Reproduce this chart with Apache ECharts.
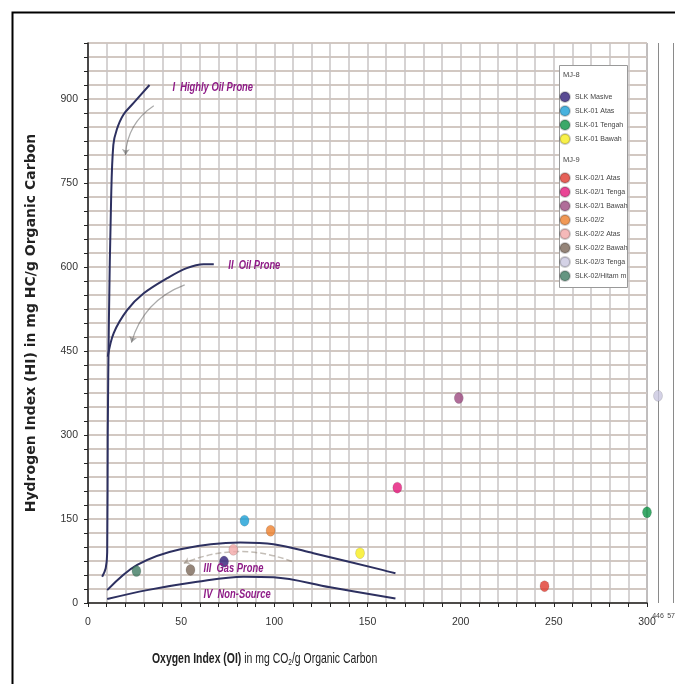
<!DOCTYPE html>
<html>
<head>
<meta charset="utf-8">
<script src="https://cdn.jsdelivr.net/npm/echarts@6/dist/echarts.min.js"></script>
<style>
html, body { margin: 0; padding: 0; background: #fff; }
#chart { width: 675px; height: 684px; }
</style>
</head>
<body>
<div id="chart"></div>
<script>
// samples (OI, HI)
var groupMJ8 = ['SLK Masive', 'SLK-01 Atas', 'SLK-01 Tengah', 'SLK-01 Bawah'];
var groupMJ9 = ['SLK-02/1 Atas', 'SLK-02/1 Tengah', 'SLK-02/1 Bawah', 'SLK-02/2', 'SLK-02/2 Atas', 'SLK-02/2 Bawah', 'SLK-02/3 Tengah', 'SLK-02/Hitam msv'];
var sampleNames = groupMJ8.concat(groupMJ9);
var sampleOI = [73, 84, 300, 146, 245, 166, 199, 98, 78, 55, 446, 26];
var sampleHI = [74, 147, 162, 89, 30, 206, 366, 129, 95, 59, 370, 57];
var sampleColors = ['#2f1e78', '#1a9fd6', '#0b9444', '#f7ee1c', '#e03a2e', '#e5177b', '#9c4880', '#ed7f2c', '#f2a8a8', '#7b6658', '#c9c7e0', '#3e7b62'];

// kerogen type boundary curves
var typeI = [[7.6, 47], [9.5, 62], [10.3, 90], [10.6, 300], [11.2, 500], [12.4, 720], [13.6, 818], [15.5, 846], [19, 872], [24.5, 893], [33, 925]];
var typeII = [[10.6, 440], [13.8, 482], [21, 523], [29.9, 553], [42.5, 580], [53, 598], [62, 605], [67.5, 605]];
var typeIII = [[10.3, 23], [26.4, 68], [49.6, 96], [81.8, 108], [99.6, 105], [121, 89], [156.8, 60], [165, 53]];
var typeIV = [[10.3, 7], [31.7, 23], [58.6, 38], [83.5, 47], [99.6, 46], [130, 28], [165, 8]];

// maturation arrows
var arrowI = [[35.3, 888], [20.1, 800]];
var arrowII = [[51.9, 568], [23.3, 465]];
var arrowIII = [[109.5, 74], [51.4, 71]];

var zoneLabels = [
    [45.3, 921, 'I  Highly Oil Prone'],
    [75.3, 603, 'II  Oil Prone'],
    [62, 62, 'III  Gas Prone'],
    [62, 14, 'IV  Non-Source']
];
var brokenTicks = [446, 576];

var font = 'Liberation Sans, Arial, sans-serif';
var curveColor = '#2d3060';

var dom = document.getElementById('chart');
var myChart = echarts.init(dom, null, { renderer: 'canvas' });

function curve(points) {
    return {
        type: 'line',
        xAxisIndex: 0,
        yAxisIndex: 0,
        data: points,
        smooth: 0.35,
        showSymbol: false,
        silent: true,
        lineStyle: { color: curveColor, width: 2 },
        z: 3
    };
}

var series = [curve(typeI), curve(typeII), curve(typeIII), curve(typeIV)];

series.push({
    type: 'lines',
    coordinateSystem: 'cartesian2d',
    xAxisIndex: 0,
    yAxisIndex: 0,
    symbol: ['none', 'arrow'],
    symbolSize: 6,
    silent: true,
    z: 3,
    lineStyle: { color: '#555', width: 1.2, curveness: -0.25 },
    data: [
        { coords: arrowI },
        { coords: arrowII },
        { coords: arrowIII, lineStyle: { color: '#8a7d70', type: 'dashed', width: 1.5, curveness: -0.2 } }
    ]
});

sampleNames.forEach(function (name, i) {
    var broken = sampleOI[i] > 300;
    series.push({
        name: name,
        type: 'scatter',
        xAxisIndex: broken ? 1 : 0,
        yAxisIndex: broken ? 1 : 0,
        symbol: 'circle',
        symbolSize: [9, 11],
        itemStyle: {
            color: sampleColors[i],
            borderColor: 'rgba(0,0,0,0.25)',
            borderWidth: 0.6
        },
        data: [[sampleOI[i], sampleHI[i]]],
        z: 5
    });
});

// vertical markers on the broken part of the axis
series.push({
    type: 'line',
    xAxisIndex: 1,
    yAxisIndex: 1,
    data: [],
    silent: true,
    markLine: {
        silent: true,
        symbol: 'none',
        label: { show: false },
        lineStyle: { color: '#8a8a8a', type: 'solid', width: 1 },
        data: brokenTicks.map(function (v) { return { xAxis: v }; })
    }
});

var legendCommon = {
    orient: 'vertical',
    left: 559,
    icon: 'circle',
    itemWidth: 10,
    itemHeight: 10,
    itemGap: 2,
    padding: 0,
    selectedMode: false,
    textStyle: {
        fontFamily: font,
        fontSize: 7,
        color: '#444',
        width: 54,
        overflow: 'truncate',
        ellipsis: '\u200b'
    }
};

var option = {
    backgroundColor: '#fff',
    animation: false,
    grid: [
        { left: 88, top: 43, width: 559, height: 560, show: true, borderColor: '#555', borderWidth: 1, outerBoundsMode: 'none' },
        { left: 643, top: 43, width: 30, height: 560, show: false, outerBoundsMode: 'none' }
    ],
    xAxis: [
        {
            type: 'value',
            gridIndex: 0,
            min: 0,
            max: 300,
            interval: 10,
            axisLine: { show: true, lineStyle: { color: '#222', width: 1.5 } },
            axisTick: { show: true, length: 4, lineStyle: { color: '#222' } },
            axisLabel: {
                margin: 14,
                fontFamily: font,
                fontSize: 10.5,
                color: '#333',
                formatter: function (v) { return v % 50 === 0 ? v : ''; }
            },
            splitLine: { show: true, lineStyle: { color: '#c8c4c4', width: 1.5 } }
        },
        {
            type: 'value',
            gridIndex: 1,
            min: 316,
            max: 576,
            interval: 130,
            axisLine: { show: false },
            axisTick: { show: false },
            splitLine: { show: false },
            axisLabel: {
                margin: 10,
                fontFamily: font,
                fontSize: 7,
                color: '#444',
                showMinLabel: true,
                showMaxLabel: true,
                hideOverlap: false,
                formatter: function (v) { return brokenTicks.indexOf(v) >= 0 ? v : ''; }
            }
        }
    ],
    yAxis: [
        {
            type: 'value',
            gridIndex: 0,
            min: 0,
            max: 1000,
            interval: 25,
            name: 'Hydrogen Index (HI) in mg HC/g Organic Carbon',
            nameLocation: 'middle',
            nameRotate: 90,
            nameGap: 50,
            nameTextStyle: { fontFamily: '"DejaVu Sans", sans-serif', fontWeight: 'bold', fontSize: 14, color: '#222' },
            axisLine: { show: true, lineStyle: { color: '#222', width: 1.5 } },
            axisTick: { show: true, length: 4, lineStyle: { color: '#222' } },
            axisLabel: {
                margin: 10,
                fontFamily: font,
                fontSize: 10.5,
                color: '#333',
                formatter: function (v) { return (v % 150 === 0 && v < 1000) ? v : ''; }
            },
            splitLine: { show: true, lineStyle: { color: '#d2c8c2', width: 2 } }
        },
        {
            type: 'value',
            gridIndex: 1,
            min: 0,
            max: 1000,
            show: false
        }
    ],
    legend: [
        Object.assign({}, legendCommon, { top: 91, data: groupMJ8 }),
        Object.assign({}, legendCommon, { top: 172, data: groupMJ9 })
    ],
    graphic: [
        { type: 'rect', left: 10, top: 10, shape: { width: 720, height: 720 }, style: { fill: 'none', stroke: '#000', lineWidth: 2 }, z: 10, silent: true },
        { type: 'rect', left: 559, top: 65, shape: { width: 68, height: 222 }, style: { fill: '#fff', stroke: '#999', lineWidth: 1 }, z: 3, silent: true },
        { type: 'text', left: 563, top: 71, style: { text: 'MJ-8', font: '7.5px ' + font, fill: '#444' }, z: 5 },
        { type: 'text', left: 563, top: 156, style: { text: 'MJ-9', font: '7.5px ' + font, fill: '#444' }, z: 5 },
        {
            type: 'text',
            x: 152,
            y: 651,
            scaleX: 0.72,
            style: {
                text: '{b|Oxygen Index (OI)} in mg CO{s|2}/g Organic Carbon',
                font: '14.5px ' + font,
                fill: '#222',
                rich: {
                    b: { fontFamily: font, fontWeight: 'bold', fontSize: 14.5, fill: '#222' },
                    s: { fontFamily: font, fontSize: 9, fill: '#222', padding: [7, 0, 0, 0] }
                }
            },
            z: 5
        }
    ],
    series: series
};

if (option && typeof option === 'object') {
    myChart.setOption(option);
}

// zone names, anchored in data coordinates, drawn narrow like the original
var zoneGraphics = zoneLabels.map(function (z) {
    var p = myChart.convertToPixel({ xAxisIndex: 0, yAxisIndex: 0 }, [z[0], z[1]]);
    return {
        type: 'text',
        x: p[0],
        y: p[1],
        scaleX: 0.78,
        silent: true,
        z: 6,
        style: {
            text: z[2],
            font: 'italic bold 12px ' + font,
            fill: '#8e1b87',
            verticalAlign: 'middle',
            align: 'left'
        }
    };
});
myChart.setOption({ graphic: option.graphic.concat(zoneGraphics) });

window.addEventListener('resize', myChart.resize);
</script>
</body>
</html>
